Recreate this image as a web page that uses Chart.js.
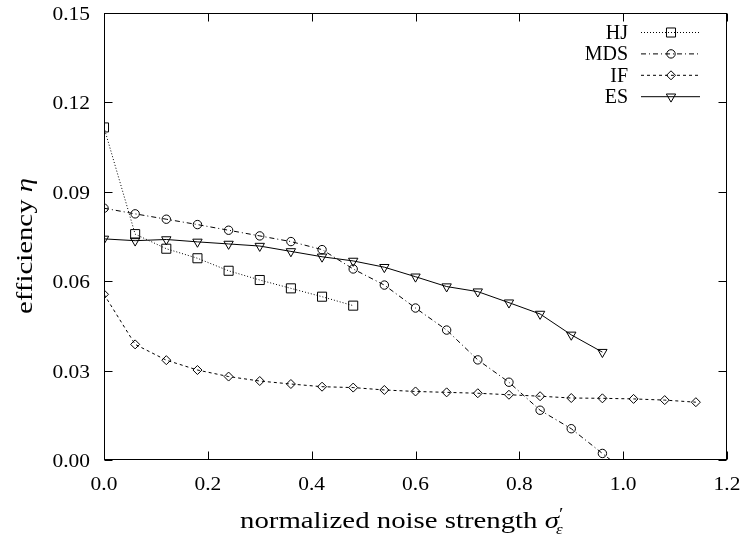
<!DOCTYPE html>
<html lang="en">
<head>
<meta charset="UTF-8">
<title>Efficiency vs noise strength</title>
<script src="https://cdn.jsdelivr.net/npm/chart.js"></script>
<style>
  html, body { margin: 0; padding: 0; background: #fff; }
  #wrap { width: 740px; height: 535px; }
</style>
</head>
<body>
<div id="wrap"><canvas id="effChart" width="740" height="535"></canvas></div>
<script>
  // noise strength sampled every 0.06
  const noise = [0.00, 0.06, 0.12, 0.18, 0.24, 0.30, 0.36, 0.42, 0.48, 0.54,
                 0.60, 0.66, 0.72, 0.78, 0.84, 0.90, 0.96, 1.02, 1.08, 1.14];

  const hjEff  = [0.1116, 0.0758, 0.0709, 0.0677, 0.0635, 0.0604, 0.0576, 0.0548, 0.0518];
  const mdsEff = [0.0845, 0.0826, 0.0808, 0.0790, 0.0771, 0.0752, 0.0733, 0.0706, 0.0641,
                  0.0587, 0.0510, 0.0436, 0.0336, 0.0261, 0.0167, 0.0105, 0.0022, -0.0060];
  const ifEff  = [0.0556, 0.0388, 0.0335, 0.0302, 0.0280, 0.0265, 0.0255, 0.0246, 0.0243, 0.0235,
                  0.0230, 0.0227, 0.0224, 0.0219, 0.0214, 0.0208, 0.0207, 0.0205, 0.0201, 0.0194];
  const esEff  = [0.0742, 0.0736, 0.0740, 0.0732, 0.0725, 0.0718, 0.0700, 0.0682, 0.0668,
                  0.0647, 0.0615, 0.0582, 0.0565, 0.0528, 0.0490, 0.0420, 0.0362];

  const seriesNames = ["HJ", "MDS", "IF", "ES"];
  const FONT = "'Liberation Serif', 'Times New Roman', serif";

  function pairs(vals) {
    return vals.map((v, i) => ({ x: noise[i], y: v }));
  }

  function makeSet(name, vals, dash, style, radius, rotation) {
    return {
      label: name,
      data: pairs(vals),
      borderColor: '#000',
      borderWidth: 1,
      borderDash: dash,
      pointStyle: style,
      pointRadius: radius,
      pointRotation: rotation,
      pointBorderColor: '#000',
      pointBorderWidth: 1,
      pointBackgroundColor: 'rgba(0,0,0,0)',
      tension: 0,
      fill: false,
      clip: 0
    };
  }

  // text a bit wider than Liberation Serif, like the original postscript font
  function wideText(ctx, txt, x, y, align, stretch) {
    ctx.save();
    ctx.translate(x, y);
    ctx.scale(stretch, 1);
    ctx.textAlign = align;
    ctx.fillText(txt, 0, 0);
    ctx.restore();
  }

  // box, inward ticks on all four sides, tick labels
  const frameTicks = {
    id: 'frameTicks',
    afterDraw(chart) {
      const { ctx, chartArea: a, scales: { x, y } } = chart;
      ctx.save();
      ctx.strokeStyle = '#000';
      ctx.lineWidth = 1;
      ctx.setLineDash([]);
      const L = Math.round(a.left) + 0.5, R = Math.round(a.right) - 0.5;
      const T = Math.round(a.top) + 0.5, B = Math.round(a.bottom) - 0.5;
      ctx.strokeRect(L, T, R - L, B - T);
      ctx.beginPath();
      x.ticks.forEach(t => {
        const px = Math.round(x.getPixelForValue(t.value)) + 0.5;
        ctx.moveTo(px, B); ctx.lineTo(px, B - 8);
        ctx.moveTo(px, T); ctx.lineTo(px, T + 8);
      });
      y.ticks.forEach(t => {
        const py = Math.round(y.getPixelForValue(t.value)) + 0.5;
        ctx.moveTo(L, py); ctx.lineTo(L + 8, py);
        ctx.moveTo(R, py); ctx.lineTo(R - 8, py);
      });
      ctx.stroke();

      ctx.fillStyle = '#000';
      ctx.font = '19.5px ' + FONT;
      ctx.textBaseline = 'alphabetic';
      x.ticks.forEach(t => {
        wideText(ctx, t.value.toFixed(1), x.getPixelForValue(t.value), a.bottom + 30, 'center', 1.1);
      });
      y.ticks.forEach(t => {
        wideText(ctx, t.value.toFixed(2), a.left - 14, y.getPixelForValue(t.value) + 7, 'right', 1.1);
      });
      ctx.restore();
    }
  };

  // gnuplot style key: name right aligned, then line sample with marker
  const keyBox = {
    id: 'keyBox',
    afterDraw(chart) {
      const { ctx, chartArea: a } = chart;
      ctx.save();
      chart.data.datasets.forEach((ds, i) => {
        const rowY = a.top + 19.5 + i * 21.4;
        ctx.font = '20px ' + FONT;
        ctx.fillStyle = '#000';
        ctx.textAlign = 'right';
        ctx.textBaseline = 'middle';
        ctx.fillText(ds.label, a.left + 524, rowY + 1);

        ctx.strokeStyle = '#000';
        ctx.lineWidth = 1;
        ctx.setLineDash(ds.borderDash);
        ctx.beginPath();
        ctx.moveTo(a.left + 537, rowY);
        ctx.lineTo(a.left + 596, rowY);
        ctx.stroke();

        ctx.setLineDash([]);
        ctx.fillStyle = 'rgba(0,0,0,0)';
        Chart.helpers.drawPoint(ctx, {
          pointStyle: ds.pointStyle,
          radius: ds.pointRadius,
          rotation: ds.pointRotation,
          borderWidth: 1
        }, a.left + 567, rowY);
      });
      ctx.restore();
    }
  };

  // axis titles with greek symbols, sub- and superscript
  const axisTitles = {
    id: 'axisTitles',
    afterDraw(chart) {
      const { ctx, chartArea: a } = chart;
      const sx = 1.2;
      ctx.save();
      ctx.fillStyle = '#000';
      ctx.textBaseline = 'alphabetic';

      // x title
      let px = a.left + 136;
      const base = 527.5;
      const main = 'normalized noise strength ';
      ctx.font = '24px ' + FONT;
      wideText(ctx, main, px, base, 'left', sx);
      px += ctx.measureText(main).width * sx;
      ctx.font = 'italic 24px ' + FONT;
      wideText(ctx, 'σ', px, base, 'left', sx);
      px += ctx.measureText('σ').width * sx;
      ctx.font = '17px ' + FONT;
      wideText(ctx, '′', px, base - 9, 'left', sx);
      ctx.font = 'italic 14px ' + FONT;
      wideText(ctx, 'ε', px - 3, base + 6, 'left', sx);

      // y title, rotated
      ctx.translate(32, 246);
      ctx.rotate(-Math.PI / 2);
      ctx.scale(sx, 1);
      const w1 = 'efficiency ';
      ctx.font = '24px ' + FONT;
      const wa = ctx.measureText(w1).width;
      ctx.font = 'italic 24px ' + FONT;
      const wb = ctx.measureText('η').width;
      const start = -(wa + wb) / 2;
      ctx.textAlign = 'left';
      ctx.font = '24px ' + FONT;
      ctx.fillText(w1, start, 0);
      ctx.font = 'italic 24px ' + FONT;
      ctx.fillText('η', start + wa, 0);
      ctx.restore();
    }
  };

  const ctx = document.getElementById('effChart').getContext('2d');
  new Chart(ctx, {
    type: 'line',
    data: {
      datasets: [
        makeSet(seriesNames[0], hjEff, [1, 2], 'rect', 6.4, 0),
        makeSet(seriesNames[1], mdsEff, [5, 3, 1, 3], 'circle', 4.2, 0),
        makeSet(seriesNames[2], ifEff, [3, 3], 'rectRot', 4.5, 0),
        makeSet(seriesNames[3], esEff, [], 'triangle', 5.4, 180)
      ]
    },
    options: {
      responsive: false,
      animation: false,
      layout: { padding: { top: 13, right: 13, left: 0, bottom: 0 } },
      plugins: {
        legend: { display: false },
        tooltip: { enabled: false }
      },
      scales: {
        x: {
          type: 'linear',
          min: 0,
          max: 1.2,
          grid: { display: false },
          border: { display: false },
          ticks: { stepSize: 0.2, display: false },
          afterFit: s => { s.height = 75; }
        },
        y: {
          min: 0,
          max: 0.15,
          grid: { display: false },
          border: { display: false },
          ticks: { stepSize: 0.03, display: false },
          afterFit: s => { s.width = 104; }
        }
      }
    },
    plugins: [frameTicks, keyBox, axisTitles]
  });
</script>
</body>
</html>
